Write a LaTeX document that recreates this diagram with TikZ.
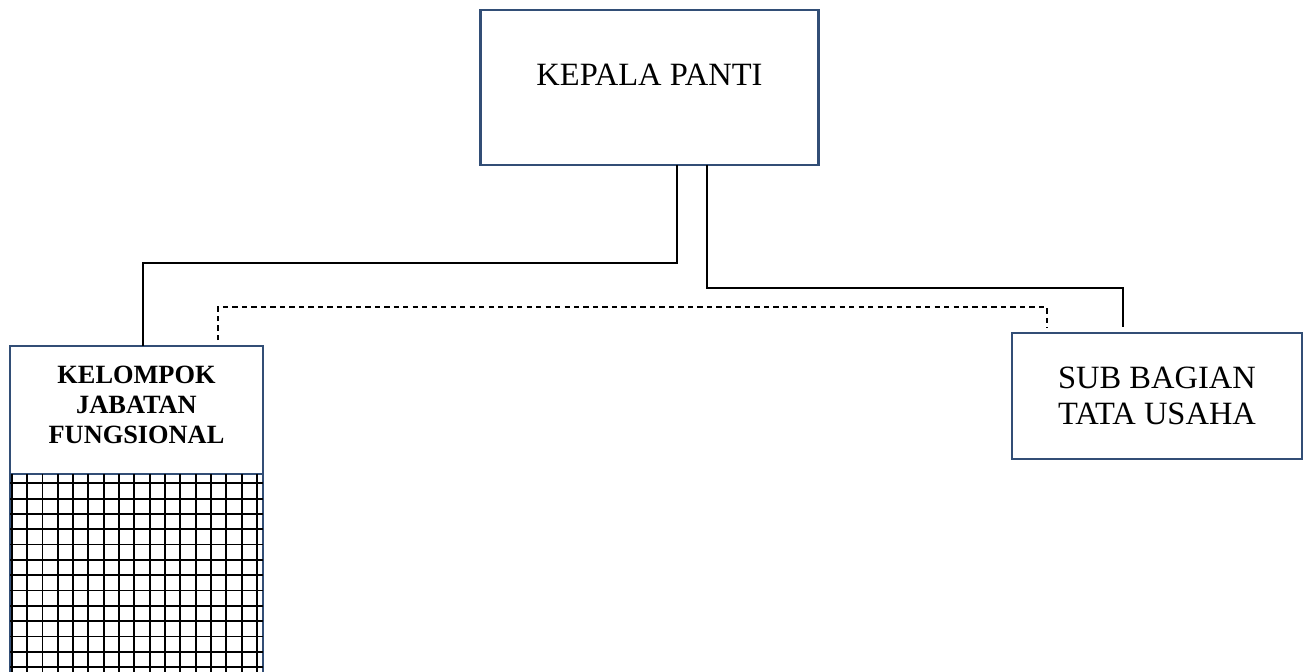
\documentclass[tikz,border=0pt]{standalone}
\usepackage{fontspec}
\setmainfont{Liberation Serif}
\usetikzlibrary{calc, positioning}
\definecolor{boxblue}{RGB}{50,78,118}

\begin{document}
\begin{tikzpicture}[x=0.02cm, y=-0.02cm, every node/.style={align=center},
  box/.style={draw=boxblue, line width=1.4pt, fill=white, outer sep=0pt, inner sep=0pt},
  conn/.style={line width=0.9pt},
  gridline/.style={line width=1pt}]
\useasboundingbox (0,0) rectangle (1314,672);
\node (kepala) [box, minimum width=6.76cm, minimum height=3.1cm, text depth=0.52cm, font={\fontsize{18.5}{20.4}\selectfont}] at (649.5,87.5) {KEPALA PANTI};
\node (kelompok) [box, minimum width=5.06cm, minimum height=2.56cm, text depth=0.2cm, font={\fontsize{15}{17.2}\selectfont\bfseries}] at (136.5,410) {KELOMPOK\\JABATAN\\FUNGSIONAL};
\node (kgrid) [box, below=0pt of kelompok, minimum width=5.06cm, minimum height=4.6cm] {};
\node (subbag) [box, minimum width=5.8cm, minimum height=2.52cm, font={\fontsize{18.5}{20.4}\selectfont}] at (1157,396) {SUB BAGIAN\\TATA USAHA};
% grid fill of the lower part
\foreach \gx in {0,...,16}
  \draw[gridline] ($(kgrid.north west)+(1.7+15.33*\gx,0)$) -- ++(0,230);
\foreach \gy in {0,...,12}
  \draw[gridline] ($(kgrid.north west)+(0,9.3+15.33*\gy)$) -- ++(253,0);
% connectors
\draw[conn] ($(kepala.south)+(27.5,0)$) -- ++(0,98) -| ($(kelompok.north)+(6.5,0)$);
\draw[conn] ($(kepala.south)+(57.5,0)$) -- ++(0,123) -| ($(subbag.north)+(-34,-6)$);
\draw[conn, dashed, dash pattern=on 3pt off 2.4pt] ($(kelompok.north)+(81.5,-6)$) -- ++(0,-33) -| ($(subbag.north)+(-110,-5)$);
\end{tikzpicture}
\end{document}
